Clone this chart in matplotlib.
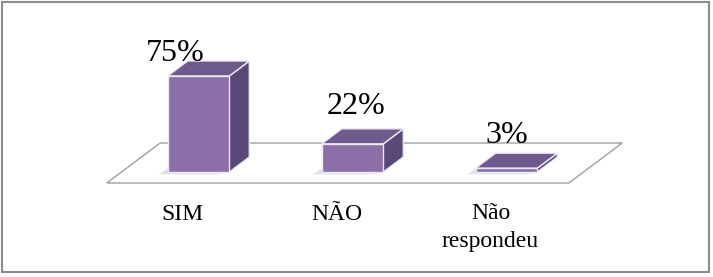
import matplotlib
matplotlib.use("Agg")
import matplotlib.pyplot as plt
from matplotlib.patches import Polygon, Rectangle
from matplotlib.transforms import Affine2D

# ---- data ----
categories = ["SIM", "NÃO", "Não\nrespondeu"]
values = [75, 22, 3]
value_labels = ["75%", "22%", "3%"]

# ---- style / layout ----
W, H, DPI = 713, 277, 100
fig = plt.figure(figsize=(W / DPI, H / DPI), dpi=DPI)
ax = fig.add_axes([0, 0, 1, 1])
ax.set_axis_off()

px_per_cat = 154.0
px_per_val = 1.28
x0_px = 198.5          # pixel column of first category (front face centre)
base_px_from_bottom = 105.0
ax.set_xlim(-x0_px / px_per_cat, (W - x0_px) / px_per_cat)
ax.set_ylim(-base_px_from_bottom / px_per_val, (H - base_px_from_bottom) / px_per_val)


def dpx(dx, dy):
    """pixel offset -> data offset"""
    return dx / px_per_cat, dy / px_per_val


front_c = "#8A6FA8"
top_c = "#6E5A8C"
side_c = "#5A4878"
edge_c = "#EEE8F4"
bar_w = 0.40
depth = dpx(20, 15)

# floor
f_front = dpx(-14.7, -11)
f_back = dpx(38.7, 29)
fl, fr = -0.5, len(categories) - 0.5
floor = Polygon([(fl + f_front[0], f_front[1]), (fr + f_front[0], f_front[1]),
                 (fr + f_back[0], f_back[1]), (fl + f_back[0], f_back[1])],
                closed=True, facecolor="white", edgecolor="#A0A0A0", lw=1.0, zorder=1)
ax.add_patch(floor)

# soft shadows under bars
for i, v in enumerate(values):
    for k, a in enumerate([0.05, 0.05, 0.05]):
        sx, sy = dpx(-4 - 3 * k, -1 - k)
        sh = Polygon([(i - bar_w / 2 + sx, sy), (i + bar_w / 2 + sx, sy),
                      (i + bar_w / 2 + depth[0] + sx, depth[1] + sy),
                      (i - bar_w / 2 + depth[0] + sx, depth[1] + sy)],
                     closed=True, facecolor="black", edgecolor="none", alpha=a, zorder=2)
        ax.add_patch(sh)

# bars
for i, v in enumerate(values):
    xa, xb = i - bar_w / 2, i + bar_w / 2
    ddx, ddy = depth
    side = Polygon([(xb, 0), (xb + ddx, ddy), (xb + ddx, v + ddy), (xb, v)],
                   closed=True, facecolor=side_c, edgecolor=edge_c, lw=1.0, zorder=3)
    top = Polygon([(xa, v), (xb, v), (xb + ddx, v + ddy), (xa + ddx, v + ddy)],
                  closed=True, facecolor=top_c, edgecolor=edge_c, lw=1.0, zorder=3)
    front = Polygon([(xa, 0), (xb, 0), (xb, v), (xa, v)],
                    closed=True, facecolor=front_c, edgecolor=edge_c, lw=1.0, zorder=4)
    for p in (side, top, front):
        ax.add_patch(p)

# value labels
serif = ["Liberation Serif", "DejaVu Serif"]
lab_dx_px = [-23, 3, 0]
lab_dy_px = [0, 15, 10]
for i, (v, t) in enumerate(zip(values, value_labels)):
    off = Affine2D().translate(lab_dx_px[i], lab_dy_px[i])
    ax.text(i, v + depth[1], t, ha="center", va="baseline", fontsize=23,
            family=serif, color="black", transform=ax.transData + off, zorder=5)

# category labels (first-line baseline 48 px below bar base, line step 27 px)
line_step_px = 27
for i, c in enumerate(categories):
    n = c.count("\n")
    off = Affine2D().translate(-16, -n * line_step_px)
    ax.text(i, -48 / px_per_val, c, ha="center", va="baseline", fontsize=17,
            family=serif, color="black", linespacing=1.45,
            transform=ax.transData + off, zorder=5)

# outer border
fig.patches.append(Rectangle((2 / W, 5 / H), 707 / W, 270 / H, transform=fig.transFigure,
                             fill=False, edgecolor="#8C8C8C", lw=1.5))

fig.savefig("out.png", dpi=DPI, facecolor="white")
